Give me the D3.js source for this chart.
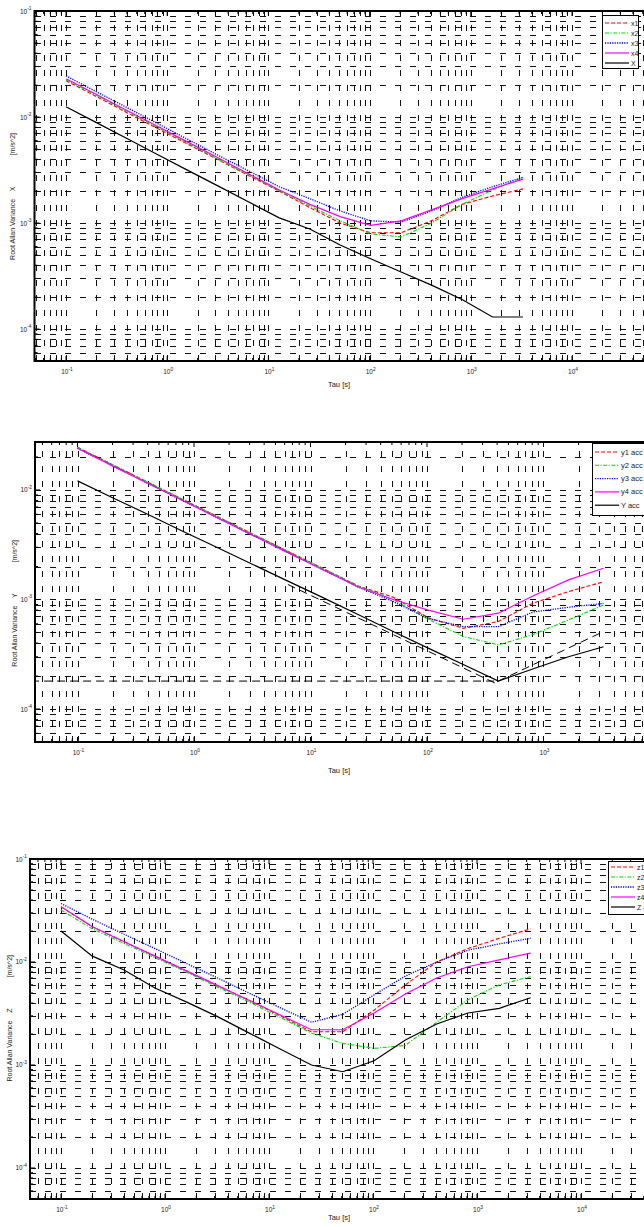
<!DOCTYPE html>
<html><head><meta charset="utf-8">
<script src="https://cdn.jsdelivr.net/npm/d3@7"></script>
<style>
body{margin:0;background:#fff}
svg{display:block}
text{font-family:"Liberation Sans",Arial,sans-serif;fill:#222}
</style>
</head><body>
<svg id="c" width="644" height="1227"></svg>
<script>
// ---------------- data ----------------
const tau = [0.1,0.2,0.4,0.8,1.6,3.2,6.4,12.8,25.6,51.2,102.4,204.8,409.6,819.2,1638.4,3276.8];
const xTickVals = [0.1,1,10,100,1000,10000];
const xTickExp = ["-1","0","1","2","3","4"];
const yTickVals = [1e-4,1e-3,1e-2,1e-1];
const yTickExp = ["-4","-3","-2","-1"];

// X axis (panel 1)
const x1 = [2.2e-2,1.56e-2,1.1e-2,7.8e-3,5.55e-3,3.95e-3,2.8e-3,2.0e-3,1.4e-3,1.0e-3,8.1e-4,8.1e-4,1.05e-3,1.5e-3,1.8e-3,2.1e-3];
const x2 = [2.25e-2,1.6e-2,1.13e-2,8.0e-3,5.65e-3,4.0e-3,2.85e-3,2.02e-3,1.45e-3,1.05e-3,7.9e-4,7.4e-4,1.0e-3,1.5e-3,2.05e-3,2.7e-3];
const x3 = [2.45e-2,1.73e-2,1.23e-2,8.7e-3,6.15e-3,4.35e-3,3.1e-3,2.2e-3,1.7e-3,1.3e-3,1.05e-3,1.02e-3,1.3e-3,1.75e-3,2.2e-3,2.7e-3];
const x4 = [2.3e-2,1.63e-2,1.15e-2,8.2e-3,5.8e-3,4.1e-3,2.9e-3,2.05e-3,1.5e-3,1.15e-3,9.5e-4,1.05e-3,1.33e-3,1.7e-3,2.1e-3,2.6e-3];
const xAll = [1.25e-2,8.85e-3,6.27e-3,4.44e-3,3.14e-3,2.23e-3,1.58e-3,1.12e-3,8.8e-4,6.2e-4,4.6e-4,3.45e-4,2.6e-4,1.9e-4,1.3e-4,1.3e-4];

// Y axis (panel 2)
const y1 = [2.45e-2,1.7e-2,1.18e-2,8.2e-3,5.7e-3,3.95e-3,2.75e-3,1.92e-3,1.33e-3,1.05e-3,6.8e-4,5.45e-4,6.3e-4,9.3e-4,1.18e-3,1.45e-3];
const y2 = [2.45e-2,1.7e-2,1.18e-2,8.2e-3,5.7e-3,3.95e-3,2.75e-3,1.92e-3,1.33e-3,1.0e-3,6.6e-4,4.6e-4,3.85e-4,4.8e-4,6.5e-4,8.9e-4];
const y3 = [2.4e-2,1.66e-2,1.15e-2,8.0e-3,5.55e-3,3.85e-3,2.68e-3,1.87e-3,1.3e-3,9.6e-4,6.7e-4,5.65e-4,5.65e-4,7.7e-4,8.5e-4,9.2e-4];
const y4 = [2.4e-2,1.66e-2,1.15e-2,8.0e-3,5.55e-3,3.85e-3,2.68e-3,1.87e-3,1.3e-3,1.0e-3,8.0e-4,6.6e-4,7.5e-4,1.08e-3,1.51e-3,1.93e-3];
const yAll = [1.21e-2,8.5e-3,6.0e-3,4.2e-3,2.97e-3,2.09e-3,1.47e-3,1.04e-3,7.3e-4,5.1e-4,3.6e-4,2.55e-4,1.8e-4,2.33e-4,3.0e-4,3.7e-4];
// reference slopes drawn on panel 2
const refFlatTau = [0.04,409.6];
const refFlatVal = [1.8e-4,1.8e-4];
const refDownTau = [6.4,409.6];
const refDownVal = [1.37e-3,1.67e-4];
const refUpTau = [409.6,3276.8];
const refUpVal = [1.8e-4,5.1e-4];

// Z axis (panel 3)
const z1 = [3.44e-2,2.2e-2,1.58e-2,1.14e-2,8.2e-3,5.9e-3,4.25e-3,3.0e-3,2.1e-3,2.1e-3,3.4e-3,6.0e-3,1.0e-2,1.35e-2,1.7e-2,2.1e-2];
const z2 = [3.2e-2,2.1e-2,1.52e-2,1.1e-2,8.0e-3,5.7e-3,4.1e-3,2.9e-3,2.04e-3,1.62e-3,1.45e-3,1.55e-3,2.6e-3,4.3e-3,6.0e-3,7.2e-3];
const z3 = [3.7e-2,2.6e-2,1.87e-2,1.35e-2,9.7e-3,7.0e-3,5.0e-3,3.6e-3,2.6e-3,3.1e-3,4.8e-3,7.3e-3,1.0e-2,1.3e-2,1.5e-2,1.7e-2];
const z4 = [3.44e-2,2.2e-2,1.58e-2,1.14e-2,8.2e-3,5.9e-3,4.25e-3,3.06e-3,2.2e-3,2.2e-3,3.2e-3,4.9e-3,7.0e-3,9.0e-3,1.05e-2,1.22e-2];
const zAll = [2.0e-2,1.14e-2,8.4e-3,5.6e-3,4.1e-3,2.95e-3,2.05e-3,1.43e-3,1.0e-3,8.6e-4,1.1e-3,1.75e-3,2.5e-3,3.2e-3,3.55e-3,4.5e-3];

const legendX = ["x1","x2","x3","x4","X"];
const legendY = ["y1 acc","y2 acc","y3 acc","y4 acc","Y acc"];
const legendZ = ["z1 acc","z2 acc","z3 acc","z4 acc","Z acc"];
const yLabels = ["Root Allan Variance    X                [m/s^2]","Root Allan Variance    Y                [m/s^2]","Root Allan Variance    Z                [m/s^2]"];
const xLabel = "Tau [s]";

// ---------------- styles ----------------
const seriesStyle = [
  {color:"#ff0000", dash:"4,2", w:1.1},
  {color:"#00dd00", dash:"4,1.5,1.2,1.5", w:1.1},
  {color:"#0000ff", dash:"1.2,1.2", w:1.3},
  {color:"#ff00ff", dash:null, w:1.2},
  {color:"#000000", dash:null, w:1.2}
];

const svg = d3.select("#c");

const panels = [
  {left:34.5, top:11, bottom:361, right:700, x01:66, dx:101.2, ymax:0.1, ymin:5e-5,
   series:[x1,x2,x3,x4,xAll], legend:legendX, lg:{x:602,y:15,w:36,h:53,dy:10,first:8,fs:7},
   ylab:yLabels[0], ylabTop:133, ylabX:14.5, xlabY:387, refs:false},
  {left:35, top:442, bottom:742, right:700, x01:77.5, dx:116.5, ymax:2.74e-2, ymin:5e-5,
   series:[y1,y2,y3,y4,yAll], legend:legendY, lg:{x:592,y:443,w:70,h:72,dy:13.3,first:9,fs:7.5},
   ylab:yLabels[1], ylabTop:540, ylabX:17, xlabY:773, refs:true},
  {left:30, top:859, bottom:1199, right:700, x01:61, dx:104, ymax:0.1, ymin:5e-5,
   series:[z1,z2,z3,z4,zAll], legend:legendZ, lg:{x:608,y:861,w:60,h:53,dy:10,first:6,fs:7},
   ylab:yLabels[2], ylabTop:955, ylabX:12, xlabY:1220, refs:false}
];

function minorTicks(lo, hi){
  const out=[];
  for(let e=Math.floor(Math.log10(lo))-1;e<=Math.ceil(Math.log10(hi))+1;e++){
    for(let m=1;m<=9;m++){const v=m*Math.pow(10,e); if(v>=lo*0.9999 && v<=hi*1.0001) out.push(v);}
  }
  return out;
}

panels.forEach((p,i)=>{
  const xmin = Math.pow(10, -1 - (p.x01-p.left)/p.dx);
  const xmax = Math.pow(10, -1 + (p.right-p.x01)/p.dx);
  const x = d3.scaleLog().domain([xmin,xmax]).range([p.left,p.right]);
  const y = d3.scaleLog().domain([p.ymin,p.ymax]).range([p.bottom,p.top]);
  const g = svg.append("g");
  const cid = "clip"+i;
  g.append("clipPath").attr("id",cid).append("rect")
    .attr("x",p.left).attr("y",p.top).attr("width",p.right-p.left).attr("height",p.bottom-p.top);

  // grid
  const grid = g.append("g").attr("stroke","#111").attr("stroke-width",1).attr("shape-rendering","crispEdges");
  const xs = minorTicks(xmin,xmax);
  const ys = minorTicks(p.ymin,p.ymax);
  grid.selectAll("line.v").data(xs).join("line")
    .attr("x1",d=>Math.round(x(d))+0.5).attr("x2",d=>Math.round(x(d))+0.5)
    .attr("y1",p.bottom).attr("y2",p.top)
    .attr("stroke-dasharray","6,9");
  grid.selectAll("line.h").data(ys).join("line")
    .attr("y1",d=>Math.round(y(d))+0.5).attr("y2",d=>Math.round(y(d))+0.5)
    .attr("x1",p.left).attr("x2",p.right)
    .attr("stroke-dasharray","6,9");

  // reference lines
  const line = d3.line().x(d=>x(d[0])).y(d=>y(d[1]));
  const plot = g.append("g").attr("clip-path",`url(#${cid})`);
  if(p.refs){
    [[refFlatTau,refFlatVal],[refDownTau,refDownVal],[refUpTau,refUpVal]].forEach(([t,v])=>{
      plot.append("path").attr("d",line(t.map((tt,k)=>[tt,v[k]])))
        .attr("fill","none").attr("stroke","#000").attr("stroke-width",1).attr("stroke-dasharray","8,5");
    });
  }
  // series
  p.series.forEach((s,k)=>{
    const st = seriesStyle[k];
    plot.append("path").attr("d",line(tau.map((t,j)=>[t,s[j]])))
      .attr("fill","none").attr("stroke",st.color).attr("stroke-width",st.w)
      .attr("stroke-dasharray",st.dash);
  });

  // axes frame
  const fr = g.append("g").attr("stroke","#000").attr("stroke-width",2);
  fr.append("line").attr("x1",p.left).attr("x2",p.left).attr("y1",p.top-1).attr("y2",p.bottom+1);
  fr.append("line").attr("x1",p.left).attr("x2",p.right).attr("y1",p.bottom).attr("y2",p.bottom);
  fr.append("line").attr("x1",p.left).attr("x2",p.right).attr("y1",p.top).attr("y2",p.top);

  // ticks (inward)
  const tk = g.append("g").attr("stroke","#000").attr("stroke-width",1);
  xs.forEach(v=>{
    const major = Math.abs(Math.log10(v)-Math.round(Math.log10(v)))<1e-6;
    const L = major?5:3;
    tk.append("line").attr("x1",x(v)).attr("x2",x(v)).attr("y1",p.bottom).attr("y2",p.bottom-L);
    tk.append("line").attr("x1",x(v)).attr("x2",x(v)).attr("y1",p.top).attr("y2",p.top+L);
  });
  ys.forEach(v=>{
    const major = Math.abs(Math.log10(v)-Math.round(Math.log10(v)))<1e-6;
    const L = major?5:3;
    tk.append("line").attr("x1",p.left).attr("x2",p.left+L).attr("y1",y(v)).attr("y2",y(v));
  });

  // x tick labels
  xTickVals.forEach((v,k)=>{
    if(v<xmin||x(v)>640) return;
    const t = g.append("text").attr("x",x(v)+1).attr("y",p.bottom+13).attr("text-anchor","middle").attr("font-size",6.5);
    t.append("tspan").text("10");
    t.append("tspan").attr("dy",-3.5).attr("font-size",4.8).text(xTickExp[k]);
  });
  // y tick labels
  yTickVals.forEach((v,k)=>{
    if(v<p.ymin||v>p.ymax*1.0001) return;
    const t = g.append("text").attr("x",p.left-3).attr("y",y(v)+2.5).attr("text-anchor","end").attr("font-size",6.5);
    t.append("tspan").text("10");
    t.append("tspan").attr("dy",-3.5).attr("font-size",4.8).text(yTickExp[k]);
  });

  // axis titles
  g.append("text").attr("x",339).attr("y",p.xlabY).attr("text-anchor","middle").attr("font-size",7.5).text(xLabel);
  g.append("text").attr("transform",`translate(${p.ylabX},${p.ylabTop}) rotate(-90)`)
    .attr("text-anchor","end").attr("font-size",7).attr("xml:space","preserve").style("white-space","pre").text(p.ylab);

  // legend
  const lg = g.append("g");
  lg.append("rect").attr("x",p.lg.x+0.5).attr("y",p.lg.y+0.5).attr("width",p.lg.w).attr("height",p.lg.h)
    .attr("fill","#fff").attr("stroke","#000").attr("stroke-width",1);
  p.legend.forEach((name,k)=>{
    const st = seriesStyle[k];
    const yy = p.lg.y + p.lg.first + k*p.lg.dy;
    lg.append("line").attr("x1",p.lg.x+3).attr("x2",p.lg.x+27).attr("y1",yy).attr("y2",yy)
      .attr("stroke",st.color).attr("stroke-width",st.w).attr("stroke-dasharray",st.dash);
    lg.append("text").attr("x",p.lg.x+29).attr("y",yy+2.5).attr("font-size",p.lg.fs).text(name);
  });
});
</script>
</body></html>
